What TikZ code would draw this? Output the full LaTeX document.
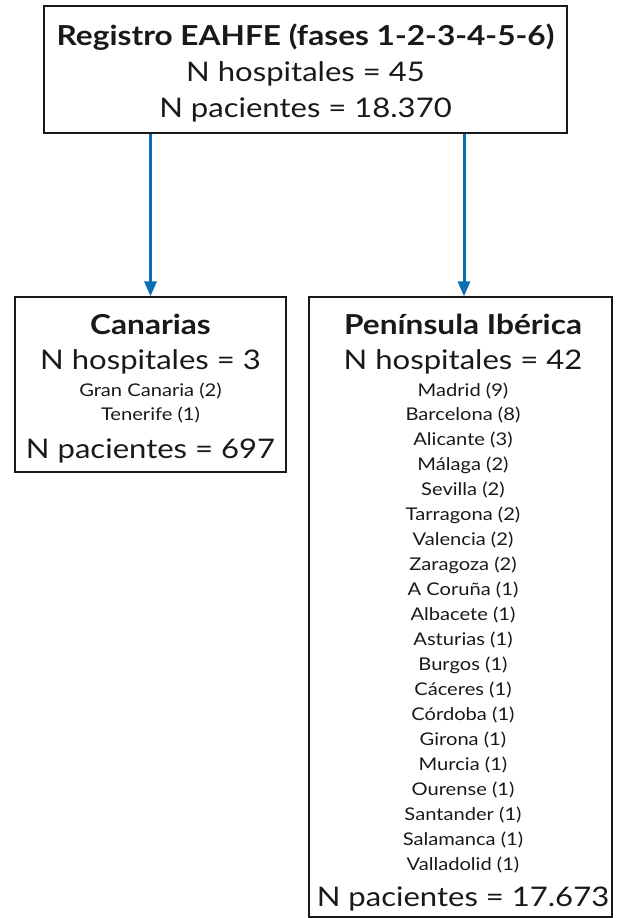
\documentclass[tikz,border=0pt]{standalone}
\usepackage{fontspec}
\setmainfont{Lato}[FakeStretch=1.15]
\usetikzlibrary{arrows.meta}
\definecolor{arrowblue}{RGB}{10,110,180}
\definecolor{ink}{RGB}{25,25,25}
\tikzset{
  box/.style={draw=ink, line width=1.3pt, inner sep=0pt, fill=none},
  bigtxt/.style={anchor=base, inner sep=0pt, text=ink, font=\fontsize{27}{30}\selectfont},
  ttl/.style={anchor=base, inner sep=0pt, text=ink, font=\fontsize{27.5}{30}\selectfont\bfseries},
  smalltxt/.style={anchor=base, inner sep=0pt, text=ink, font=\fontsize{17.5}{20}\selectfont},
  conn/.style={draw=arrowblue, line width=3pt, -{Triangle[length=15pt,width=12pt]}}
}
\begin{document}
\begin{tikzpicture}[x=1pt,y=-1pt]
\useasboundingbox (0,0) rectangle (625,918);
% boxes
\node[box, minimum width=523pt, minimum height=127pt] (top) at (305.5,69.5) {};
\node[box, minimum width=271pt, minimum height=175pt] (left) at (150.5,384.5) {};
\node[box, minimum width=303pt, minimum height=620pt] (right) at (460.5,607) {};
% top text
\node[ttl] (t1) at (305.5,45) {Registro EAHFE (fases 1-2-3-4-5-6)};
\node[bigtxt] (t2) at (305.5,81) {N hospitales = 45};
\node[bigtxt] (t3) at (305.5,117) {N pacientes = 18.370};
% left text
\node[ttl] (l1) at (150.5,334) {Canarias};
\node[bigtxt] (l2) at (150.5,369) {N hospitales = 3};
\node[smalltxt] (l3) at (150.5,396) {Gran Canaria (2)};
\node[smalltxt] (l4) at (150.5,420) {Tenerife (1)};
\node[bigtxt] (l5) at (150.5,458) {N pacientes = 697};
% right text
\node[ttl] (r1) at (463,334) {Península Ibérica};
\node[bigtxt] (r2) at (463,369) {N hospitales = 42};
\foreach \name [count=\i from 0] in {Madrid (9),Barcelona (8),Alicante (3),Málaga (2),Sevilla (2),Tarragona (2),Valencia (2),Zaragoza (2),A Coruña (1),Albacete (1),Asturias (1),Burgos (1),Cáceres (1),Córdoba (1),Girona (1),Murcia (1),Ourense (1),Santander (1),Salamanca (1),Valladolid (1)}
  \node[smalltxt] (city\i) at (463,396+24.95*\i) {\name};
\node[bigtxt] (r3) at (463,906) {N pacientes = 17.673};
% connectors
\draw[conn] (top.south -| left.north) -- (left.north);
\draw[conn] ([xshift=3.5pt]top.south -| right.north) -- ([xshift=3.5pt]right.north);
\end{tikzpicture}
\end{document}
